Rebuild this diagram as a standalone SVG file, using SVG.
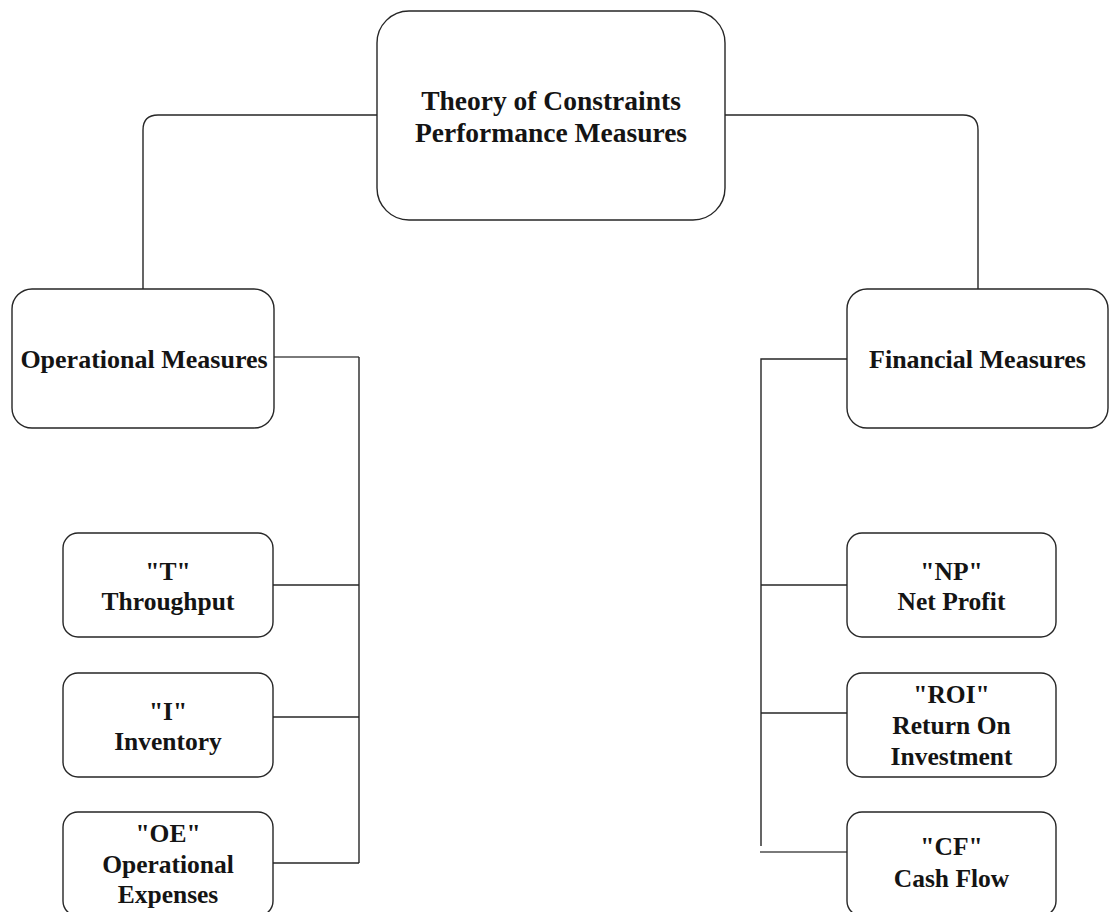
<svg xmlns="http://www.w3.org/2000/svg" width="1114" height="912" viewBox="0 0 1114 912">
  <style>
    .box { fill: #ffffff; stroke: #262626; stroke-width: 1.4; }
    .link { fill: none; stroke: #262626; stroke-width: 1.4; }
    .soft { fill: none; stroke: #7a7a7a; stroke-width: 2.2; }
    text { font-family: "Liberation Serif", "Times New Roman", serif; font-weight: bold; fill: #141414; text-anchor: middle; }
    .t1 { font-size: 27.5px; }
    .t2 { font-size: 26px; }
    .t3 { font-size: 25.5px; }
  </style>

  <!-- connectors -->
  <g id="connectors">
    <path class="link" d="M377 115 H158 Q143 115 143 130 V289"/>
    <path class="link" d="M725 115 H963 Q978 115 978 130 V289"/>
    <path class="soft" d="M274 357 H359"/>
    <path class="link" d="M359 357 V863"/>
    <path class="link" d="M273 585 H359"/>
    <path class="link" d="M273 717 H359"/>
    <path class="link" d="M273 863 H359"/>
    <path class="link" d="M847 359 H761 V846"/>
    <path class="link" d="M761 585 H847"/>
    <path class="link" d="M761 713 H847"/>
    <path class="soft" d="M760 852 H847"/>
  </g>

  <!-- root -->
  <g id="root">
    <rect class="box" x="377" y="11" width="348" height="209" rx="32" ry="32"/>
    <text class="t1" x="551" y="110">Theory of Constraints</text>
    <text class="t1" x="551" y="142">Performance Measures</text>
  </g>

  <g id="operational">
    <rect class="box" x="12" y="289" width="262" height="139" rx="20" ry="20"/>
    <text class="t2" x="144" y="368">Operational Measures</text>
  </g>

  <g id="financial">
    <rect class="box" x="847" y="289" width="261" height="139" rx="20" ry="20"/>
    <text class="t2" x="977.5" y="368">Financial Measures</text>
  </g>

  <g id="throughput">
    <rect class="box" x="63" y="533" width="210" height="104" rx="15" ry="15"/>
    <text class="t3" x="168" y="580">"T"</text>
    <text class="t3" x="168" y="610">Throughput</text>
  </g>

  <g id="inventory">
    <rect class="box" x="63" y="673" width="210" height="104" rx="15" ry="15"/>
    <text class="t3" x="168" y="720">"I"</text>
    <text class="t3" x="168" y="750">Inventory</text>
  </g>

  <g id="operational-expenses">
    <rect class="box" x="63" y="812" width="210" height="104" rx="15" ry="15"/>
    <text class="t3" x="168" y="842">"OE"</text>
    <text class="t3" x="168" y="873">Operational</text>
    <text class="t3" x="168" y="903">Expenses</text>
  </g>

  <g id="net-profit">
    <rect class="box" x="847" y="533" width="209" height="104" rx="15" ry="15"/>
    <text class="t3" x="951.5" y="580">"NP"</text>
    <text class="t3" x="951.5" y="610">Net Profit</text>
  </g>

  <g id="roi">
    <rect class="box" x="847" y="673" width="209" height="104" rx="15" ry="15"/>
    <text class="t3" x="951.5" y="703">"ROI"</text>
    <text class="t3" x="951.5" y="734">Return On</text>
    <text class="t3" x="951.5" y="765">Investment</text>
  </g>

  <g id="cash-flow">
    <rect class="box" x="847" y="812" width="209" height="104" rx="15" ry="15"/>
    <text class="t3" x="951.5" y="855">"CF"</text>
    <text class="t3" x="951.5" y="887">Cash Flow</text>
  </g>
</svg>
